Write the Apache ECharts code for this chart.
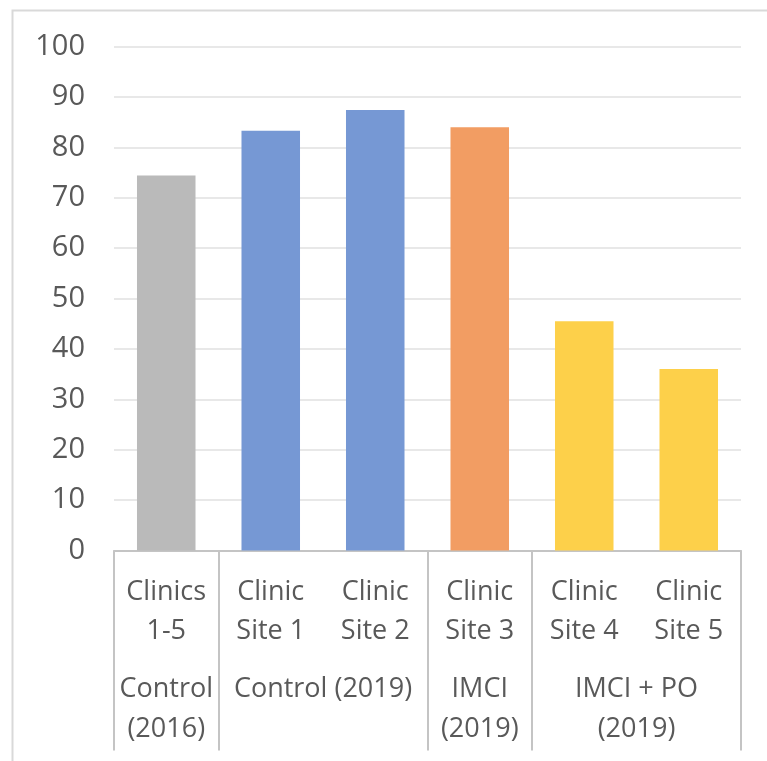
<!DOCTYPE html>
<html>
<head>
<meta charset="utf-8">
<script src="https://cdn.jsdelivr.net/npm/echarts@6/dist/echarts.min.js"></script>
<style>
  html, body { margin: 0; padding: 0; background: #ffffff; }
  #chart { width: 767px; height: 761px; }
</style>
</head>
<body>
<div id="chart"></div>
<script>
// Clinic categories (first label row) and their values
const categories = ['Clinics\n1-5', 'Clinic\nSite 1', 'Clinic\nSite 2', 'Clinic\nSite 3', 'Clinic\nSite 4', 'Clinic\nSite 5'];
const values = [74.4, 83.3, 87.4, 84.0, 45.5, 36.0];
const barColors = ['#bababa', '#7698d4', '#7698d4', '#f29d63', '#fdd04a', '#fdd04a'];

// Grouping row below the clinic labels
const groupNames = ['Control\n(2016)', 'Control (2019)', 'IMCI\n(2019)', 'IMCI + PO\n(2019)'];
const groupSizes = [1, 2, 1, 2];

// Y axis ticks
const yMin = 0, yMax = 100, yStep = 10;

// Group boundaries and centres in category units
const groupEdges = [0];
const groupCentres = [];
groupSizes.forEach(function (n) {
  const start = groupEdges[groupEdges.length - 1];
  groupCentres.push(start + n / 2);
  groupEdges.push(start + n);
});

const textColor = '#595959';
const font = '"Open Sans", "Noto Sans", sans-serif';
const catFontSize = 27;
const yFontSize = 29;
const lineColor = '#c4c4c4';

const chart = echarts.init(document.getElementById('chart'), null, { renderer: 'canvas' });
chart.setOption({
  animation: false,
  backgroundColor: '#ffffff',
  grid: { left: 114, right: 26, top: 46.5, bottom: 210.5, containLabel: false },
  graphic: [{
    type: 'rect',
    shape: { x: 12.5, y: 10.5, width: 900, height: 900 },
    style: { fill: 'none', stroke: '#d9d9d9', lineWidth: 2 },
    silent: true
  }],
  xAxis: [{
    type: 'category',
    data: categories,
    position: 'bottom',
    axisLine: { show: true, lineStyle: { color: lineColor, width: 2 } },
    axisTick: { show: false },
    axisLabel: {
      color: textColor, fontFamily: font, fontSize: catFontSize,
      lineHeight: 39, margin: 22, interval: 0
    },
    splitLine: { show: false }
  }, {
    type: 'value',
    min: 0,
    max: categories.length,
    position: 'bottom',
    axisLine: { show: false },
    splitLine: { show: false },
    axisTick: {
      show: true, length: 200, inside: false,
      customValues: groupEdges,
      lineStyle: { color: lineColor, width: 2 }
    },
    axisLabel: {
      customValues: groupCentres,
      color: textColor, fontFamily: font, fontSize: catFontSize,
      lineHeight: 40, margin: 119,
      formatter: function (v) {
        const i = groupCentres.findIndex(function (c) { return Math.abs(c - v) < 1e-6; });
        return i >= 0 ? groupNames[i] : '';
      }
    }
  }],
  yAxis: {
    type: 'value',
    min: yMin, max: yMax, interval: yStep,
    axisLine: { show: false },
    axisTick: { show: false },
    axisLabel: { color: textColor, fontFamily: font, fontSize: yFontSize, margin: 29 },
    splitLine: { show: true, lineStyle: { color: '#e8e8e8', width: 2 } }
  },
  series: [{
    type: 'bar',
    xAxisIndex: 0,
    data: values.map(function (v, i) { return { value: v, itemStyle: { color: barColors[i] } }; }),
    barCategoryGap: '44%'
  }]
});
</script>
</body>
</html>
